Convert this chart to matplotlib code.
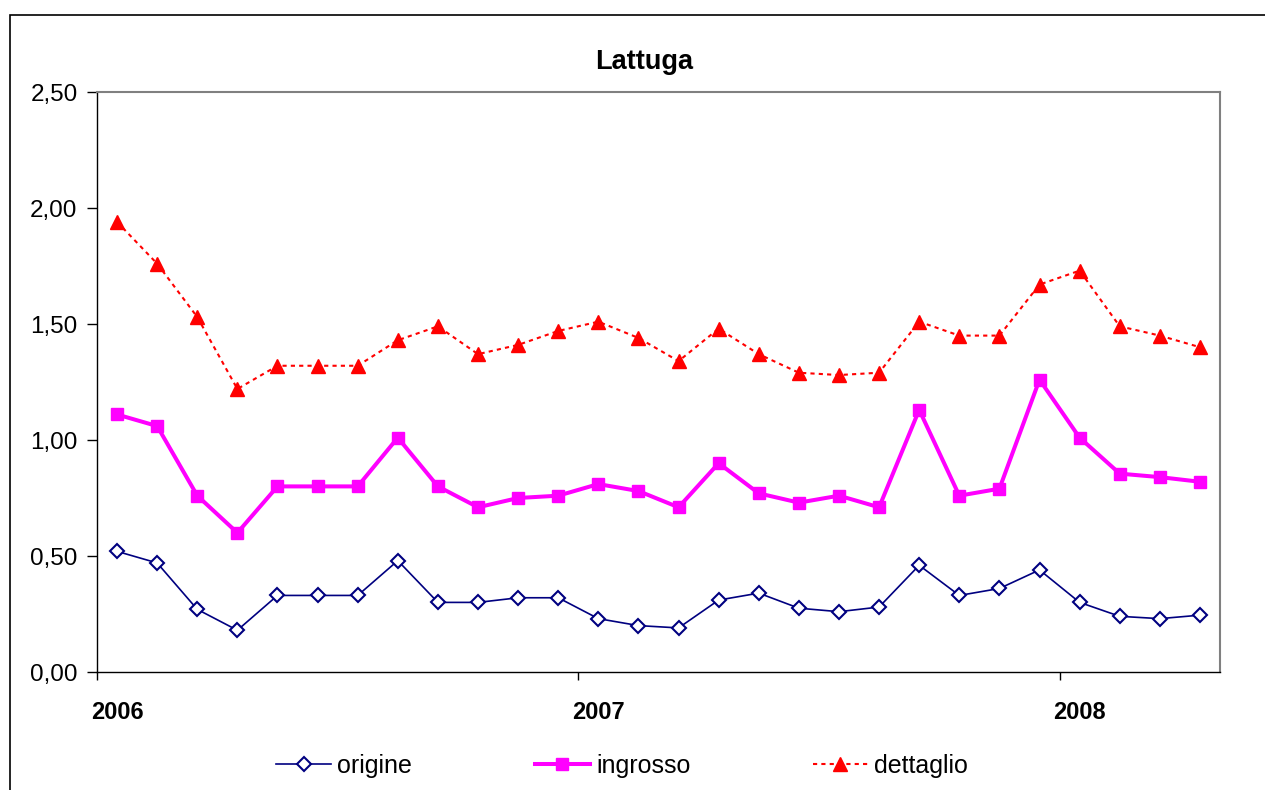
import matplotlib
matplotlib.use("Agg")
import matplotlib.pyplot as plt
from matplotlib.patches import Rectangle
from matplotlib.ticker import FuncFormatter
import numpy as np

plt.rcParams['font.family'] = ['Liberation Sans', 'DejaVu Sans']

months = [f"{y}-{m:02d}" for y in (2006, 2007, 2008) for m in range(1, 13)][:28]
year_labels = ["2006", "2007", "2008"]

origine = [0.52, 0.47, 0.27, 0.18, 0.33, 0.33, 0.33, 0.48, 0.30, 0.30,
           0.32, 0.32, 0.23, 0.20, 0.19, 0.31, 0.34, 0.275, 0.26, 0.28,
           0.46, 0.33, 0.36, 0.44, 0.30, 0.24, 0.23, 0.245]
ingrosso = [1.11, 1.06, 0.76, 0.60, 0.80, 0.80, 0.80, 1.01, 0.80, 0.71,
            0.75, 0.76, 0.81, 0.78, 0.71, 0.90, 0.77, 0.73, 0.76, 0.71,
            1.13, 0.76, 0.79, 1.26, 1.01, 0.855, 0.84, 0.82]
dettaglio = [1.94, 1.76, 1.53, 1.22, 1.32, 1.32, 1.32, 1.43, 1.49, 1.37,
             1.41, 1.47, 1.51, 1.44, 1.34, 1.48, 1.37, 1.29, 1.28, 1.29,
             1.51, 1.45, 1.45, 1.67, 1.73, 1.49, 1.45, 1.40]

W, H = 1265, 790
fig = plt.figure(figsize=(W / 100, H / 100), dpi=100)
ax = fig.add_axes([97 / W, 1 - 672 / H, (1220 - 97) / W, (672 - 92) / H])

x = np.arange(len(months))

ax.plot(x, origine, color='#000080', lw=1.2, marker='D', ms=7.5,
        mfc='white', mec='#000080', mew=1.5, label='origine', zorder=3)
ax.plot(x, ingrosso, color='#FF00FF', lw=2.9, marker='s', ms=8.8,
        mfc='#FF00FF', mec='#FF00FF', label='ingrosso', zorder=3)
ax.plot(x, dettaglio, color='#FF0000', lw=1.5, ls=(0, (2, 2)), marker='^',
        ms=10.5, mfc='#FF0000', mec='#FF0000', label='dettaglio', zorder=3)

ax.set_xlim(-0.5, len(months) - 0.5)
ax.set_ylim(0, 2.5)
ax.set_yticks(np.arange(0, 2.51, 0.5))
ax.yaxis.set_major_formatter(FuncFormatter(lambda v, p: f"{v:.2f}".replace('.', ',')))
ax.tick_params(axis='y', direction='out', length=7, width=1, pad=7,
               labelsize=17.5, colors='black')

year_pos = [months.index(f"{y}-01") for y in year_labels]
ax.set_xticks([p - 0.5 for p in year_pos])
ax.set_xticklabels([])
ax.tick_params(axis='x', which='major', direction='out', length=6, width=1)
ax.set_xticks(year_pos, minor=True)
ax.set_xticklabels(year_labels, minor=True, fontweight='bold', fontsize=17)
ax.tick_params(axis='x', which='minor', length=0, pad=21)

for s in ('top', 'right'):
    ax.spines[s].set_color('#808080')
    ax.spines[s].set_linewidth(1.5)
for s in ('left', 'bottom'):
    ax.spines[s].set_color('black')
    ax.spines[s].set_linewidth(1.0)

fig.text(644 / W, 1 - 69 / H, "Lattuga", ha='center', va='baseline',
         fontsize=19.5, fontweight='bold')

leg = fig.legend(loc='center', bbox_to_anchor=(622 / W, 1 - 766 / H), ncol=3,
                 frameon=False, fontsize=18, handlelength=2.2,
                 handletextpad=0.25, columnspacing=4.9)

# outer chart frame
fig.patches.append(Rectangle((9.5 / W, -0.05), 1.1, (790 - 15) / H + 0.05,
                             transform=fig.transFigure, fill=False,
                             edgecolor='black', lw=1.2, clip_on=False))

fig.savefig("out.png", dpi=100)
